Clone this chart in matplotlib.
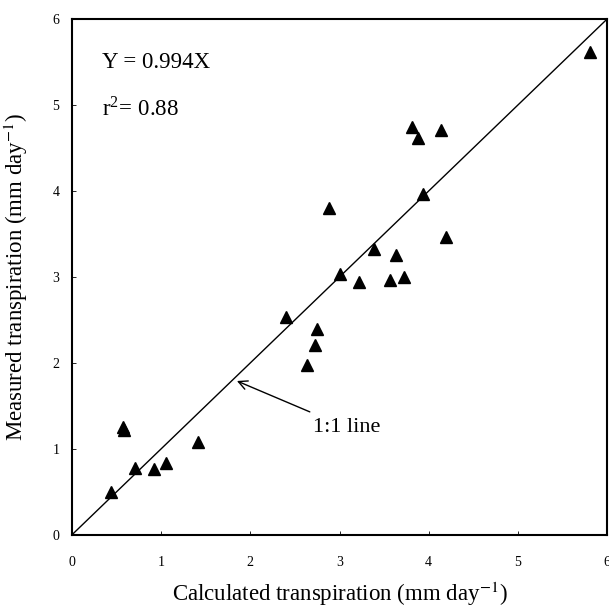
import numpy as np
import matplotlib
matplotlib.use('Agg')
import matplotlib.pyplot as plt

plt.rcParams['font.family'] = ['Liberation Serif', 'DejaVu Serif']
plt.rcParams['mathtext.fontset'] = 'stix'

# data
calculated = [0.44, 0.57, 0.58, 0.71, 0.92, 1.05, 1.41, 2.40, 2.63, 2.72, 2.75,
              2.88, 3.00, 3.22, 3.39, 3.57, 3.63, 3.72, 3.81, 3.88, 4.14, 3.94,
              4.19, 5.81]
measured = [0.50, 1.25, 1.22, 0.78, 0.77, 0.84, 1.08, 2.53, 1.97, 2.21, 2.40,
            3.80, 3.03, 2.94, 3.32, 2.96, 3.26, 3.00, 4.74, 4.61, 4.71, 3.97,
            3.46, 5.62]
one_to_one = [0, 6]

fig = plt.figure(figsize=(6.09, 6.12), dpi=100)
ax = fig.add_axes([0.118, 0.126, 0.879, 0.843])

ax.plot(one_to_one, one_to_one, color='black', lw=1.0)
ax.plot(calculated, measured, linestyle='none', marker='^', ms=9,
        color='black', markeredgecolor='black')

ax.set_xlim(0, 6)
ax.set_ylim(0, 6)
ax.set_xticks(range(7))
ax.set_yticks(range(7))
ax.tick_params(direction='in', length=3, width=0.6, labelsize=10)
ax.tick_params(axis='x', pad=15)
ax.tick_params(axis='y', pad=9)
for s in ax.spines.values():
    s.set_linewidth(1.5)

ax.set_xlabel('Calculated transpiration (mm day$^{-1}$)', fontsize=16.5, labelpad=8)
ax.set_ylabel('Measured transpiration (mm day$^{-1}$)', fontsize=16.5, labelpad=16)

ax.text(0.34, 5.49, 'Y = 0.994X', fontsize=16.5, va='center')
ax.text(0.34, 4.96, 'r$^{\\mathregular{2}}$= 0.88', fontsize=16.5, va='center')

ax.annotate('1:1 line', xy=(1.85, 1.79), xytext=(2.7, 1.25), fontsize=16,
            va='center',
            arrowprops=dict(arrowstyle='->', color='black', lw=1.0,
                            shrinkA=6, shrinkB=0))

fig.savefig('out.png', dpi=100)
